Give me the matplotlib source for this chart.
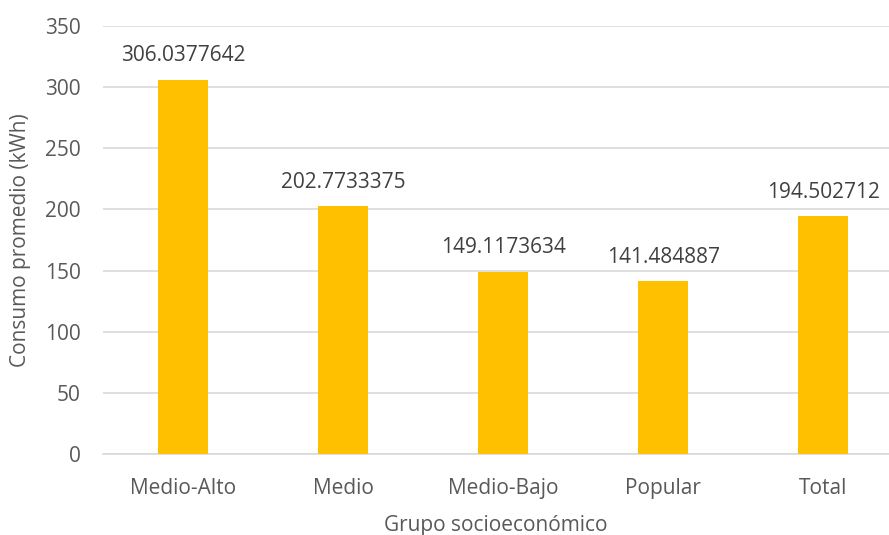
import numpy as np
import matplotlib.pyplot as plt

plt.rcParams['font.family'] = ['Open Sans', 'DejaVu Sans']

grupos = ['Medio-Alto', 'Medio', 'Medio-Bajo', 'Popular', 'Total']
consumo = [306.0377642, 202.7733375, 149.1173634, 141.484887, 194.502712]
etiquetas = ['306.0377642', '202.7733375', '149.1173634', '141.484887', '194.502712']

gris = '#595959'

fig = plt.figure(figsize=(8.89, 5.35), dpi=100)
ax = fig.add_axes([0.1159, 0.1514, 0.884, 0.80])

x = np.arange(len(grupos))
bars = ax.bar(x, consumo, width=0.31, color='#FFC000', zorder=3)

for b, t in zip(bars, etiquetas):
    ax.text(b.get_x() + b.get_width() / 2, b.get_height() + 11, t,
            ha='center', va='bottom', fontsize=15, color='#404040')

ax.set_ylim(0, 350)
ax.set_yticks(np.arange(0, 351, 50))
ax.set_xlim(-0.5, 4.41)
ax.set_xticks(x)
ax.set_xticklabels(grupos)
ax.grid(axis='y', color='#D9D9D9', linewidth=1.2, zorder=0)
for s in ['top', 'right', 'left']:
    ax.spines[s].set_visible(False)
ax.spines['bottom'].set_color('#D9D9D9')
ax.spines['bottom'].set_linewidth(1.2)
ax.tick_params(axis='both', length=0, labelsize=15, colors=gris)
ax.tick_params(axis='x', pad=17)
ax.tick_params(axis='y', pad=16)

ax.set_xlabel('Grupo socioeconómico', fontsize=15, color=gris, labelpad=12)
ax.set_ylabel('Consumo promedio (kWh)', fontsize=15, color=gris, labelpad=10)

fig.savefig('out.png', dpi=100)
